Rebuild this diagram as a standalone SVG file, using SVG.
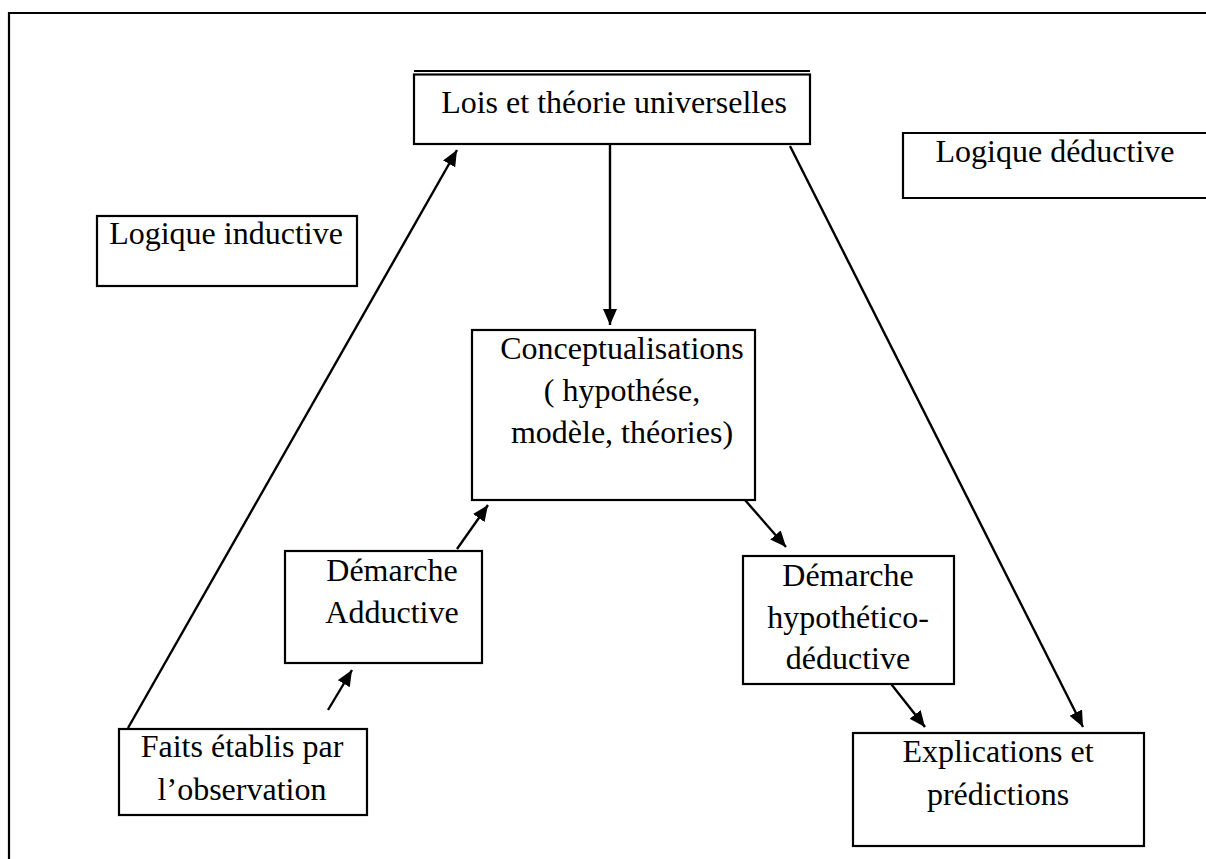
<svg xmlns="http://www.w3.org/2000/svg" width="1206" height="859" viewBox="0 0 1206 859">
  <style>
    .box { fill: #ffffff; stroke: #000000; stroke-width: 2.2; }
    .lbl { font-family: "Liberation Serif", "Times New Roman", serif; font-size: 32px; fill: #000000; text-anchor: middle; }
    .edge { stroke: #000000; stroke-width: 2.4; fill: none; marker-end: url(#head); }
  </style>
  <defs>
    <marker id="head" markerUnits="userSpaceOnUse" markerWidth="17" markerHeight="15" refX="16" refY="7" orient="auto">
      <path d="M0,0 L16,7 L0,14 z" fill="#000000"/>
    </marker>
  </defs>
  <rect width="1206" height="859" fill="#ffffff"/>

  <!-- page frame -->
  <path d="M9,870 L9,13 L1220,13" fill="none" stroke="#000000" stroke-width="2.2"/>

  <g id="connectors">
    <line class="edge" x1="128" y1="728" x2="457" y2="150"/>
    <line class="edge" x1="610" y1="145" x2="610" y2="325"/>
    <line class="edge" x1="790" y1="146" x2="1083" y2="727"/>
    <line class="edge" x1="328" y1="710" x2="352" y2="670"/>
    <line class="edge" x1="457" y1="549" x2="488" y2="505"/>
    <line class="edge" x1="745" y1="500" x2="786" y2="547"/>
    <line class="edge" x1="888" y1="680" x2="925" y2="727"/>
  </g>

  <g id="lois">
    <line x1="414" y1="71" x2="810" y2="71" stroke="#000000" stroke-width="2"/>
    <rect class="box" x="414" y="74.5" width="396" height="69.5"/>
    <text class="lbl" x="614" y="113">Lois et théorie universelles</text>
  </g>

  <g id="logique-deductive">
    <path d="M1220,133 L903,133 L903,198 L1220,198" class="box"/>
    <text class="lbl" x="1055" y="162">Logique déductive</text>
  </g>

  <g id="logique-inductive">
    <rect class="box" x="97" y="216" width="260" height="70"/>
    <text class="lbl" x="226" y="244">Logique inductive</text>
  </g>

  <g id="conceptualisations">
    <rect class="box" x="472" y="330" width="283" height="170"/>
    <text class="lbl" x="622" y="359">Conceptualisations</text>
    <text class="lbl" x="622" y="401">( hypothése,</text>
    <text class="lbl" x="622" y="443">modèle, théories)</text>
  </g>

  <g id="adductive">
    <rect class="box" x="285" y="551" width="197" height="112"/>
    <text class="lbl" x="392" y="581">Démarche</text>
    <text class="lbl" x="392" y="623">Adductive</text>
  </g>

  <g id="hypothetico-deductive">
    <rect class="box" x="743" y="556" width="211" height="128"/>
    <text class="lbl" x="848" y="586">Démarche</text>
    <text class="lbl" x="848" y="628">hypothético-</text>
    <text class="lbl" x="848" y="669">déductive</text>
  </g>

  <g id="faits">
    <rect class="box" x="119" y="729" width="248" height="86"/>
    <text class="lbl" x="242" y="757">Faits établis par</text>
    <text class="lbl" x="242" y="800">l’observation</text>
  </g>

  <g id="explications">
    <rect class="box" x="853" y="733" width="291" height="113"/>
    <text class="lbl" x="998" y="762">Explications et</text>
    <text class="lbl" x="998" y="805">prédictions</text>
  </g>
</svg>
